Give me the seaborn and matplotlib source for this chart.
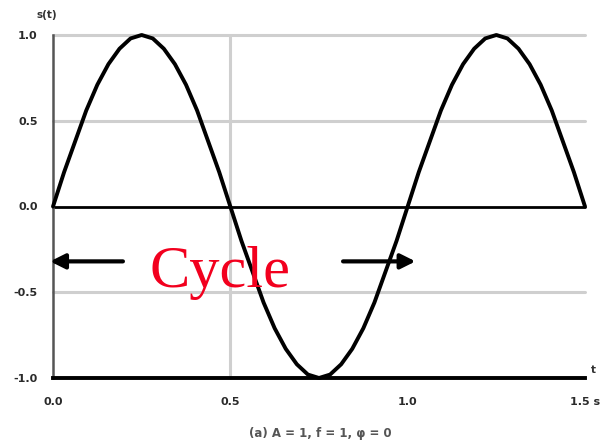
import matplotlib
matplotlib.use("Agg")
import matplotlib.pyplot as plt
import seaborn as sns
import pandas as pd

# ---- data ----
time_s = [0.0, 0.03125, 0.0625, 0.09375, 0.125, 0.15625, 0.1875, 0.21875, 0.25,
          0.28125, 0.3125, 0.34375, 0.375, 0.40625, 0.4375, 0.46875, 0.5,
          0.53125, 0.5625, 0.59375, 0.625, 0.65625, 0.6875, 0.71875, 0.75,
          0.78125, 0.8125, 0.84375, 0.875, 0.90625, 0.9375, 0.96875, 1.0,
          1.03125, 1.0625, 1.09375, 1.125, 1.15625, 1.1875, 1.21875, 1.25,
          1.28125, 1.3125, 1.34375, 1.375, 1.40625, 1.4375, 1.46875, 1.5]
signal = [0.00, 0.20, 0.38, 0.56, 0.71, 0.83, 0.92, 0.98, 1.00,
          0.98, 0.92, 0.83, 0.71, 0.56, 0.38, 0.20, 0.00,
          -0.20, -0.38, -0.56, -0.71, -0.83, -0.92, -0.98, -1.00,
          -0.98, -0.92, -0.83, -0.71, -0.56, -0.38, -0.20, 0.00,
          0.20, 0.38, 0.56, 0.71, 0.83, 0.92, 0.98, 1.00,
          0.98, 0.92, 0.83, 0.71, 0.56, 0.38, 0.20, 0.00]
x_ticks = [0.0, 0.5, 1.0, 1.5]
x_tick_labels = ["0.0", "0.5", "1.0", "1.5 s"]
y_ticks = [-1.0, -0.5, 0.0, 0.5, 1.0]
y_tick_labels = ["-1.0", "-0.5", "0.0", "0.5", "1.0"]
caption = "(a) A = 1, f = 1, \u03c6 = 0"

df = pd.DataFrame({"t": time_s, "s": signal})

sns.set_style("white")
plt.rcParams["font.family"] = ["DejaVu Sans"]

fig = plt.figure(figsize=(6.02, 4.45), dpi=100)
W, H = 602, 445
ax = fig.add_axes([53 / W, 1 - 378 / H, (585 - 53) / W, (378 - 35) / H])

# grid lines
for yv in [1.0, 0.5, -0.5]:
    ax.axhline(yv, color="#cfcfcf", lw=2.2, zorder=1, clip_on=False)
ax.axvline(0.5, color="#cfcfcf", lw=2.2, zorder=1)
ax.axhline(0.0, color="black", lw=2.0, zorder=2)

sns.lineplot(data=df, x="t", y="s", ax=ax, color="black", lw=2.8, zorder=3)
for ln in ax.lines:
    ln.set_clip_on(False)

ax.set_xlim(0, 1.5)
ax.set_ylim(-1, 1)
ax.set_xticks(x_ticks)
ax.set_xticklabels(x_tick_labels)
ax.set_yticks(y_ticks)
ax.set_yticklabels(y_tick_labels)
ax.set_xlabel("")
ax.set_ylabel("")

for sp in ["top", "right"]:
    ax.spines[sp].set_visible(False)
ax.spines["left"].set_color("#555555")
ax.spines["left"].set_linewidth(1.8)
ax.spines["bottom"].set_color("black")
ax.spines["bottom"].set_linewidth(2.8)
ax.spines["bottom"].set_zorder(4)

ax.tick_params(axis="x", direction="out", length=9, width=2.2, color="#666666",
               pad=5, labelsize=8, labelcolor="#2a2a2a")
ax.tick_params(axis="y", direction="out", length=7, width=2.4, color="black",
               pad=4, labelsize=8, labelcolor="#2a2a2a")
for lbl in ax.get_xticklabels() + ax.get_yticklabels():
    lbl.set_fontweight("bold")

# axis annotations
fig.text(47 / W, 1 - 15 / H, "s(t)", fontsize=7.5, fontweight="bold",
         color="#333333", ha="center", va="center")
fig.text(593 / W, 1 - 370 / H, "t", fontsize=7.5, fontweight="bold",
         color="#333333", ha="center", va="center")
fig.text(320 / W, 1 - 434 / H, caption, fontsize=8.5, fontweight="bold",
         color="#555555", ha="center", va="center")

# cycle arrows and label
ax.annotate("", xy=(-0.016, -0.32), xytext=(0.205, -0.32),
            arrowprops=dict(arrowstyle="-|>", lw=3, color="black", mutation_scale=22),
            annotation_clip=False, zorder=5)
ax.annotate("", xy=(1.03, -0.32), xytext=(0.81, -0.32),
            arrowprops=dict(arrowstyle="-|>", lw=3, color="black", mutation_scale=22),
            annotation_clip=False, zorder=5)
ax.text(0.471, -0.472, "Cycle", fontsize=43.5, family=["Liberation Serif"],
        color="#f2001e", ha="center", va="baseline", zorder=6)

fig.savefig("out.png", dpi=100)
